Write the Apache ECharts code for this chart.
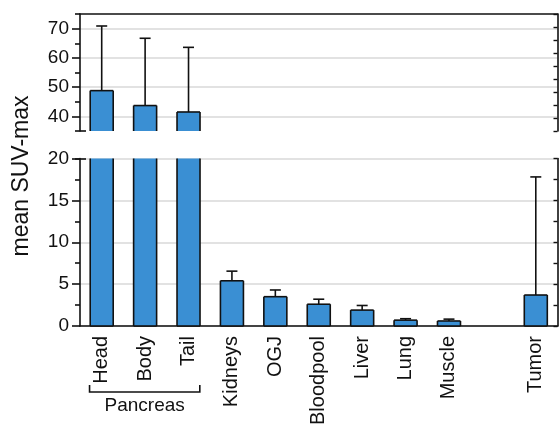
<!DOCTYPE html>
<html>
<head>
<meta charset="utf-8">
<style>
  html, body { margin: 0; padding: 0; background: #fff; }
  #chart { width: 560px; height: 424px; }
</style>
<script src="https://cdn.jsdelivr.net/npm/echarts@6/dist/echarts.min.js"></script>
</head>
<body>
<div id="chart"></div>
<script>
// Organ uptake: mean SUV-max with upward SD whiskers, broken y-axis (0–20 and 35–75)
const categories = ['Head', 'Body', 'Tail', 'Kidneys', 'OGJ', 'Bloodpool', 'Liver', 'Lung', 'Muscle', '', 'Tumor'];
const meanSUV = [48.8, 43.7, 41.5, 5.4, 3.5, 2.6, 1.9, 0.7, 0.6, null, 3.7];
const sdSUV   = [22.1, 23.0, 22.1, 1.15, 0.8, 0.6, 0.55, 0.17, 0.22, null, 14.1];

// Axis segments
const upperRange = [35, 75];
const upperMajorTicks = [40, 50, 60, 70];
const upperMinorTicks = [45, 55, 65, 75];
const lowerRange = [0, 20];
const lowerInterval = 5;

const groupLabel = 'Pancreas';
const groupMembers = ['Head', 'Tail'];   // first and last category under the bracket
const yAxisTitle = 'mean SUV-max';

const FONT = '"Liberation Sans", Arial, Helvetica, sans-serif';
const BAR_COLOR = '#3a8fd3';
const INK = '#111';
const GRID_GRAY = '#d8d8d8';

const seriesData = [];
meanSUV.forEach((m, i) => { if (m != null) seriesData.push([i, m, sdSUV[i]]); });

function makeRenderer(closeBottom) {
  return function (params, api) {
    const idx = api.value(0);
    const mean = api.value(1);
    const sd = api.value(2);
    const cs = params.coordSys;
    const top = cs.y, bottom = cs.y + cs.height;
    const w = api.size([1, 0])[0] * 0.53;
    const p = api.coord([idx, mean]);
    const cx = p[0], yMean = p[1];
    const left = cx - w / 2, right = cx + w / 2;
    const kids = [];
    const lineStyle = { stroke: INK, lineWidth: 1.6, fill: null };

    // whisker first so the bar outline sits above it
    const yErr = api.coord([idx, mean + sd])[1];
    const a = Math.max(yErr, top), b = Math.min(yMean, bottom);
    if (a < b) {
      kids.push({ type: 'line', shape: { x1: cx, y1: a, x2: cx, y2: b }, style: lineStyle });
      if (yErr >= top && yErr <= bottom) {
        kids.push({ type: 'line', shape: { x1: cx - 5.5, y1: yErr, x2: cx + 5.5, y2: yErr }, style: lineStyle });
      }
    }

    const y0 = Math.max(yMean, top);
    if (y0 < bottom) {
      kids.push({ type: 'rect', shape: { x: left, y: y0, width: w, height: bottom - y0 }, style: { fill: BAR_COLOR } });
      kids.push({ type: 'line', shape: { x1: left, y1: y0, x2: left, y2: bottom }, style: lineStyle });
      kids.push({ type: 'line', shape: { x1: right, y1: y0, x2: right, y2: bottom }, style: lineStyle });
      if (yMean >= top) {
        kids.push({ type: 'line', shape: { x1: left, y1: yMean, x2: right, y2: yMean }, style: lineStyle });
      }
      if (closeBottom) {
        kids.push({ type: 'line', shape: { x1: left, y1: bottom, x2: right, y2: bottom }, style: lineStyle });
      }
    }
    return { type: 'group', children: kids };
  };
}

const axisLineStyle = { color: INK, width: 1.6 };
const labelStyle = { color: INK, fontSize: 19, fontFamily: FONT };

const chart = echarts.init(document.getElementById('chart'), null, { renderer: 'canvas' });

chart.setOption({
  animation: false,
  backgroundColor: '#fff',
  grid: [
    { left: 80, right: 2.5, top: 14, height: 117, outerBoundsMode: 'none', containLabel: false },
    { left: 80, right: 2.5, top: 158.5, height: 167.5, outerBoundsMode: 'none', containLabel: false }
  ],
  xAxis: [
    {
      type: 'category', gridIndex: 0, data: categories, position: 'top',
      axisLine: { onZero: false, lineStyle: axisLineStyle }, axisTick: { show: false }, axisLabel: { show: false }
    },
    {
      type: 'category', gridIndex: 1, data: categories, position: 'bottom',
      axisLine: { onZero: false, lineStyle: axisLineStyle },
      axisTick: {
        alignWithLabel: true, length: 7, lineStyle: { color: INK, width: 1.6 },
        interval: (i, v) => v !== ''
      },
      axisLabel: { rotate: 90, margin: 10, interval: 0, ...labelStyle, fontSize: 20 }
    }
  ],
  yAxis: [
    // upper segment: labels, major ticks, gridlines
    {
      type: 'value', gridIndex: 0, min: upperRange[0], max: upperRange[1],
      axisLine: { show: true, lineStyle: axisLineStyle },
      axisTick: { show: true, customValues: upperMajorTicks, length: 8, lineStyle: { color: INK, width: 1.6 } },
      axisLabel: { customValues: upperMajorTicks, margin: 11, ...labelStyle },
      splitLine: { show: true, lineStyle: { color: GRID_GRAY, width: 1.6 } }
    },
    // upper segment: minor ticks
    {
      type: 'value', gridIndex: 0, min: upperRange[0], max: upperRange[1], position: 'left',
      axisLine: { show: false },
      axisTick: { show: true, customValues: upperMinorTicks, length: 5, lineStyle: { color: INK, width: 1.6 } },
      axisLabel: { show: false }, splitLine: { show: false }
    },
    // upper segment: end cap at the break
    {
      type: 'value', gridIndex: 0, min: upperRange[0], max: upperRange[1], position: 'left', offset: -6,
      axisLine: { show: false },
      axisTick: { show: true, customValues: [upperRange[0]], length: 11, lineStyle: { color: INK, width: 1.6 } },
      axisLabel: { show: false }, splitLine: { show: false }
    },
    // upper segment: right frame
    {
      type: 'value', gridIndex: 0, min: 0, max: 9, interval: 1, position: 'right',
      axisLine: { show: true, lineStyle: axisLineStyle },
      axisTick: { show: true, inside: true, length: 4, lineStyle: { color: INK, width: 1.4 } },
      axisLabel: { show: false }, splitLine: { show: false }
    },
    // lower segment
    {
      type: 'value', gridIndex: 1, min: lowerRange[0], max: lowerRange[1], interval: lowerInterval,
      axisLine: { show: true, lineStyle: axisLineStyle },
      axisTick: { show: true, length: 8, lineStyle: { color: INK, width: 1.6 } },
      minorTick: { show: true, splitNumber: 2, length: 5, lineStyle: { color: INK, width: 1.6 } },
      axisLabel: { margin: 11, ...labelStyle },
      splitLine: { show: true, lineStyle: { color: GRID_GRAY, width: 1.6 } }
    },
    // lower segment: end cap at the break
    {
      type: 'value', gridIndex: 1, min: lowerRange[0], max: lowerRange[1], position: 'left', offset: -6,
      axisLine: { show: false },
      axisTick: { show: true, customValues: [lowerRange[1]], length: 11, lineStyle: { color: INK, width: 1.6 } },
      axisLabel: { show: false }, splitLine: { show: false }
    },
    // lower segment: right frame
    {
      type: 'value', gridIndex: 1, min: lowerRange[0], max: lowerRange[1], interval: 2.5, position: 'right',
      axisLine: { show: true, lineStyle: axisLineStyle },
      axisTick: { show: true, inside: true, length: 4, lineStyle: { color: INK, width: 1.4 } },
      axisLabel: { show: false }, splitLine: { show: false }
    }
  ],
  series: [
    {
      type: 'custom', name: 'upper', xAxisIndex: 0, yAxisIndex: 0,
      data: seriesData, renderItem: makeRenderer(false), encode: { x: 0, y: 1 }, z: 5
    },
    {
      type: 'custom', name: 'lower', xAxisIndex: 1, yAxisIndex: 4,
      data: seriesData, renderItem: makeRenderer(true), encode: { x: 0, y: 1 }, z: 5
    }
  ]
});

// Bracket under the grouped categories, and the y-axis title
const band = chart.convertToPixel({ xAxisIndex: 1 }, categories[1]) - chart.convertToPixel({ xAxisIndex: 1 }, categories[0]);
const xStart = chart.convertToPixel({ xAxisIndex: 1 }, groupMembers[0]) - band * 0.28;
const xEnd = chart.convertToPixel({ xAxisIndex: 1 }, groupMembers[1]) + band * 0.26;
const yBracket = 392;

chart.setOption({
  graphic: [
    {
      type: 'polyline', silent: true,
      shape: { points: [[xStart, yBracket - 7], [xStart, yBracket], [xEnd, yBracket], [xEnd, yBracket - 7]] },
      style: { stroke: INK, lineWidth: 1.6, fill: null }
    },
    {
      type: 'text', silent: true, x: (xStart + xEnd) / 2, y: 406,
      style: { text: groupLabel, fill: INK, font: '19px ' + FONT, align: 'center', verticalAlign: 'middle' }
    },
    {
      type: 'text', silent: true, x: 22, y: 176, rotation: Math.PI / 2,
      style: { text: yAxisTitle, fill: INK, font: '23px ' + FONT, align: 'center', verticalAlign: 'middle' }
    }
  ]
});
</script>
</body>
</html>
